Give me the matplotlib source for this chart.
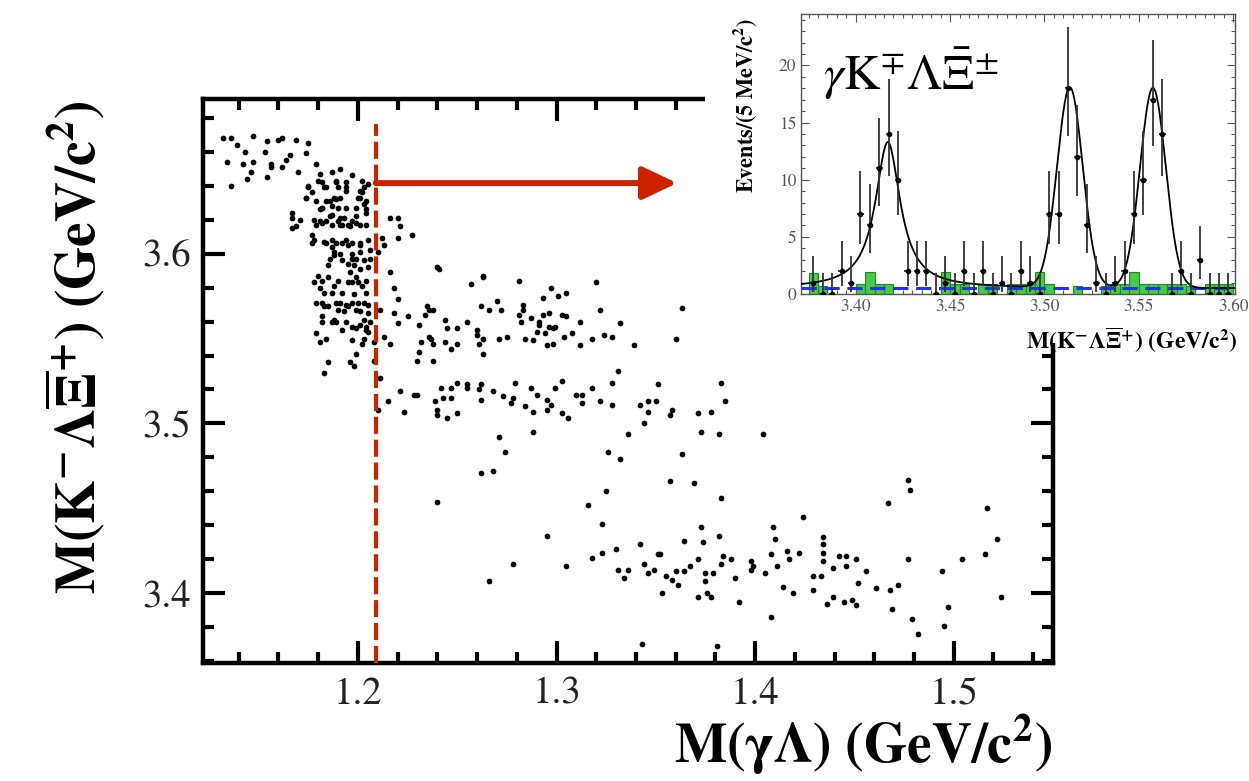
import matplotlib
matplotlib.use("Agg")
import matplotlib.pyplot as plt
import numpy as np
from matplotlib.ticker import MultipleLocator

plt.rcParams["font.family"] = ["STIXGeneral", "DejaVu Sans"]
plt.rcParams["mathtext.fontset"] = "stix"

# --- scatter: M(gamma Lambda) vs M(K Lambda Xi), GeV/c^2 ---
upper_left = [
    (1.132, 3.668), (1.136, 3.668), (1.147, 3.669), (1.139, 3.664), (1.143, 3.660),
    (1.154, 3.666), (1.153, 3.660), (1.160, 3.667), (1.162, 3.668), (1.169, 3.667),
    (1.175, 3.665), (1.174, 3.659), (1.134, 3.654), (1.142, 3.653), (1.147, 3.654),
    (1.156, 3.653), (1.156, 3.651), (1.162, 3.651), (1.164, 3.655), (1.166, 3.658),
    (1.146, 3.648), (1.144, 3.644), (1.154, 3.645), (1.170, 3.648), (1.136, 3.640),
]
sigma_top = [
    (1.179, 3.653), (1.181, 3.647), (1.187, 3.648), (1.191, 3.650), (1.197, 3.646),
    (1.202, 3.643), (1.205, 3.641), (1.182, 3.642), (1.184, 3.639), (1.189, 3.643),
    (1.190, 3.639), (1.194, 3.637), (1.201, 3.637), (1.175, 3.640), (1.177, 3.636),
    (1.174, 3.633), (1.179, 3.631), (1.182, 3.627), (1.186, 3.631), (1.189, 3.632),
    (1.191, 3.633), (1.194, 3.627), (1.199, 3.627), (1.203, 3.629), (1.204, 3.626),
    (1.201, 3.633), (1.202, 3.636), (1.167, 3.624), (1.167, 3.621), (1.171, 3.620),
    (1.181, 3.626), (1.187, 3.623), (1.191, 3.621), (1.193, 3.621), (1.199, 3.622),
    (1.204, 3.624), (1.186, 3.622),
]
sigma_mid = [
    (1.167, 3.615), (1.169, 3.616), (1.179, 3.617), (1.182, 3.618), (1.191, 3.617),
    (1.196, 3.616), (1.199, 3.618), (1.177, 3.611), (1.177, 3.606), (1.183, 3.607),
    (1.187, 3.604), (1.188, 3.601), (1.191, 3.600), (1.195, 3.605), (1.197, 3.600),
    (1.201, 3.605), (1.201, 3.601), (1.206, 3.602), (1.186, 3.597), (1.185, 3.593),
    (1.195, 3.594), (1.198, 3.593), (1.201, 3.591), (1.196, 3.589), (1.205, 3.592),
    (1.180, 3.587), (1.178, 3.583), (1.185, 3.586), (1.190, 3.584), (1.199, 3.586),
    (1.200, 3.583), (1.202, 3.581), (1.181, 3.580), (1.183, 3.577), (1.192, 3.577),
    (1.187, 3.577), (1.198, 3.576), (1.204, 3.577), (1.179, 3.571), (1.183, 3.569),
    (1.191, 3.571), (1.194, 3.570), (1.197, 3.571), (1.200, 3.571), (1.205, 3.570),
    (1.190, 3.567), (1.193, 3.566), (1.201, 3.566), (1.182, 3.563), (1.187, 3.560),
    (1.188, 3.561), (1.194, 3.560), (1.203, 3.561), (1.206, 3.560), (1.204, 3.557),
    (1.199, 3.556), (1.205, 3.554),
]
sigma_dense = [
    (1.180, 3.643), (1.189, 3.642), (1.194, 3.642), (1.175, 3.639), (1.183, 3.639),
    (1.194, 3.639), (1.203, 3.639), (1.174, 3.633), (1.184, 3.631), (1.188, 3.633),
    (1.200, 3.633), (1.204, 3.631), (1.182, 3.627), (1.187, 3.628), (1.190, 3.627),
    (1.178, 3.620), (1.181, 3.619), (1.184, 3.619), (1.187, 3.617), (1.190, 3.619),
    (1.192, 3.617), (1.195, 3.617), (1.197, 3.619), (1.201, 3.617), (1.204, 3.617),
    (1.178, 3.608), (1.184, 3.606), (1.187, 3.608), (1.189, 3.606), (1.192, 3.606),
    (1.194, 3.608), (1.197, 3.606), (1.201, 3.606), (1.205, 3.608), (1.188, 3.599),
    (1.192, 3.596), (1.197, 3.597), (1.199, 3.597), (1.203, 3.596), (1.206, 3.597),
    (1.182, 3.584), (1.188, 3.581), (1.195, 3.583), (1.197, 3.583), (1.204, 3.584),
    (1.182, 3.571), (1.185, 3.569), (1.189, 3.571), (1.195, 3.569), (1.199, 3.567),
    (1.203, 3.571), (1.205, 3.565), (1.182, 3.560), (1.189, 3.560), (1.192, 3.555),
    (1.197, 3.557), (1.201, 3.558), (1.204, 3.555),
]
past_cut = [
    (1.216, 3.621), (1.220, 3.621), (1.221, 3.616), (1.220, 3.609), (1.227, 3.611),
    (1.212, 3.609), (1.213, 3.605), (1.210, 3.601), (1.216, 3.589), (1.218, 3.580),
    (1.220, 3.573), (1.211, 3.567), (1.218, 3.565), (1.220, 3.559), (1.225, 3.563),
    (1.240, 3.592), (1.241, 3.591), (1.257, 3.582), (1.263, 3.587), (1.263, 3.586),
    (1.262, 3.569), (1.266, 3.567), (1.270, 3.572), (1.235, 3.569), (1.236, 3.567),
    (1.238, 3.567), (1.234, 3.564), (1.244, 3.561), (1.245, 3.556), (1.250, 3.556),
    (1.255, 3.560), (1.260, 3.555), (1.231, 3.558), (1.236, 3.551),
]
sigma_low = [
    (1.179, 3.553), (1.181, 3.548), (1.184, 3.550), (1.197, 3.549), (1.202, 3.547),
    (1.203, 3.550), (1.208, 3.548), (1.213, 3.551), (1.216, 3.547), (1.199, 3.541),
    (1.185, 3.536), (1.183, 3.530), (1.196, 3.536), (1.198, 3.534), (1.208, 3.537),
    (1.211, 3.527), (1.215, 3.513), (1.221, 3.519), (1.223, 3.507), (1.210, 3.508),
    (1.228, 3.517), (1.230, 3.517),
]
chic2_band = [
    (1.232, 3.548), (1.231, 3.542), (1.230, 3.537), (1.238, 3.537), (1.237, 3.550),
    (1.238, 3.547), (1.244, 3.548), (1.247, 3.544), (1.250, 3.547), (1.260, 3.552),
    (1.263, 3.550), (1.261, 3.547), (1.263, 3.541), (1.271, 3.550),
    (1.281, 3.584), (1.297, 3.580), (1.293, 3.574), (1.301, 3.575), (1.305, 3.577),
    (1.320, 3.583), (1.322, 3.567), (1.363, 3.568), (1.272, 3.567), (1.283, 3.570),
    (1.283, 3.567), (1.281, 3.564), (1.282, 3.560), (1.287, 3.562), (1.291, 3.560),
    (1.291, 3.558), (1.293, 3.564), (1.296, 3.565), (1.303, 3.564), (1.305, 3.563),
    (1.312, 3.560), (1.296, 3.557), (1.299, 3.557), (1.298, 3.556), (1.290, 3.554),
    (1.294, 3.553), (1.304, 3.551), (1.308, 3.553), (1.275, 3.551), (1.284, 3.550),
    (1.288, 3.549), (1.295, 3.546), (1.298, 3.547), (1.312, 3.546), (1.318, 3.550),
    (1.324, 3.552), (1.328, 3.551), (1.332, 3.559), (1.339, 3.546), (1.360, 3.550),
    (1.331, 3.531),
]
chic1_band = [
    (1.239, 3.513), (1.240, 3.508), (1.240, 3.505), (1.245, 3.503), (1.250, 3.506),
    (1.243, 3.515), (1.247, 3.515), (1.242, 3.521), (1.247, 3.521), (1.250, 3.524),
    (1.255, 3.521), (1.255, 3.523), (1.262, 3.523), (1.261, 3.520), (1.262, 3.514),
    (1.268, 3.519), (1.271, 3.492), (1.262, 3.471), (1.268, 3.472), (1.240, 3.454),
    (1.266, 3.407),
    (1.328, 3.524), (1.351, 3.523), (1.383, 3.524), (1.273, 3.516), (1.277, 3.512),
    (1.279, 3.524), (1.278, 3.515), (1.284, 3.510), (1.287, 3.521), (1.290, 3.517),
    (1.288, 3.507), (1.295, 3.514), (1.297, 3.511), (1.299, 3.521), (1.303, 3.525),
    (1.295, 3.508), (1.303, 3.506), (1.306, 3.503), (1.310, 3.517), (1.313, 3.517),
    (1.313, 3.512), (1.318, 3.521), (1.322, 3.513), (1.328, 3.511), (1.342, 3.511),
    (1.346, 3.513), (1.350, 3.513), (1.346, 3.507), (1.358, 3.508), (1.357, 3.505),
    (1.371, 3.506), (1.378, 3.507), (1.385, 3.513), (1.344, 3.500), (1.336, 3.494),
    (1.288, 3.495), (1.373, 3.495), (1.382, 3.494), (1.404, 3.494),
]
chic0_band = [
    (1.274, 3.483), (1.326, 3.483), (1.332, 3.479), (1.363, 3.482), (1.357, 3.466),
    (1.369, 3.465), (1.383, 3.456), (1.325, 3.460), (1.316, 3.452), (1.323, 3.441),
    (1.295, 3.434), (1.278, 3.417), (1.305, 3.416), (1.318, 3.421), (1.323, 3.424),
    (1.330, 3.426), (1.342, 3.429), (1.344, 3.417), (1.346, 3.412), (1.349, 3.414),
    (1.351, 3.423), (1.352, 3.423), (1.331, 3.414), (1.336, 3.414), (1.334, 3.409),
    (1.353, 3.400), (1.355, 3.410), (1.358, 3.408), (1.361, 3.405), (1.360, 3.413),
    (1.364, 3.413), (1.367, 3.416), (1.364, 3.431), (1.371, 3.420), (1.373, 3.439),
    (1.374, 3.430), (1.375, 3.412), (1.379, 3.412), (1.375, 3.407), (1.371, 3.398),
    (1.376, 3.400), (1.378, 3.398), (1.382, 3.434), (1.383, 3.417), (1.384, 3.422),
    (1.388, 3.420), (1.390, 3.409), (1.392, 3.395), (1.398, 3.419), (1.398, 3.414),
    (1.399, 3.416), (1.343, 3.370), (1.381, 3.369),
    (1.409, 3.439), (1.410, 3.432), (1.408, 3.423), (1.405, 3.412), (1.411, 3.416),
    (1.416, 3.425), (1.417, 3.420), (1.422, 3.424), (1.424, 3.445), (1.414, 3.404),
    (1.419, 3.400), (1.408, 3.386), (1.429, 3.410), (1.429, 3.402), (1.433, 3.410),
    (1.434, 3.419), (1.434, 3.424), (1.434, 3.429), (1.434, 3.433), (1.436, 3.394),
    (1.439, 3.398), (1.439, 3.415), (1.442, 3.422), (1.446, 3.422), (1.446, 3.416),
    (1.445, 3.395), (1.449, 3.396), (1.451, 3.393), (1.451, 3.420), (1.452, 3.406),
    (1.456, 3.413), (1.461, 3.403), (1.468, 3.402), (1.472, 3.405), (1.469, 3.391),
    (1.467, 3.453), (1.477, 3.467), (1.478, 3.461), (1.477, 3.420), (1.479, 3.385),
    (1.482, 3.376), (1.494, 3.413), (1.497, 3.392), (1.495, 3.381), (1.504, 3.420),
    (1.516, 3.423), (1.517, 3.450), (1.522, 3.432), (1.524, 3.398),
]
scatter_groups = [upper_left, sigma_top, sigma_mid, sigma_dense, past_cut,
                  sigma_low, chic2_band, chic1_band, chic0_band]

m_gl_cut = 1.209          # M(gamma Lambda) cut line
cut_top = 3.676
arrow_y = 3.6415
arrow_tip = 1.3607

# --- inset: M(K Lambda Xi) after the cut, 5 MeV bins from 3.375 ---
bin_lo = [3.375 + 0.005 * i for i in range(45)]
counts = [1, 0, 0, 2, 1, 7, 6, 11, 14, 10, 2, 2, 2, 0, 1, 0, 2, 0, 2, 0, 1, 0, 2,
          1, 0, 7, 7, 18, 12, 6, 1, 0, 1, 2, 7, 10, 17, 14, 0, 2, 0, 3, 0, 0, 0]
sideband = [1.8, 0.7, 0, 0, 0, 0.9, 1.9, 0.9, 0.9, 0, 0, 0, 0, 0, 1.9, 0.9, 0.9, 0,
            0.9, 0.9, 0, 0.9, 0.9, 0.9, 1.9, 0.9, 0, 0, 0.7, 0, 0, 0.7, 0.9, 0.9,
            1.9, 0.9, 0.9, 0.9, 0.9, 0.9, 0.7, 0, 0.9, 0.9, 0.9]
bkg_level = 0.5
peak_mass = [3.417, 3.5135, 3.5575]    # chi_c0, chi_c1, chi_c2
peak_amp = [12.8, 17.5, 17.5]
chic0_fwhm = 0.016
chic12_sigma = 0.0068

RED = "#CC2200"

fig = plt.figure(figsize=(12.49, 7.81), dpi=100)
ax = fig.add_axes([203 / 1249, 1 - 663 / 781, 850 / 1249, 564 / 781])

for grp in scatter_groups:
    xy = np.array(grp)
    ax.scatter(xy[:, 0], xy[:, 1], s=17, c="black", marker="o", linewidths=0, zorder=3)

ax.set_xlim(1.122, 1.550)
ax.set_ylim(3.359, 3.691)
ax.xaxis.set_major_locator(MultipleLocator(0.1))
ax.xaxis.set_minor_locator(MultipleLocator(0.02))
ax.yaxis.set_major_locator(MultipleLocator(0.1))
ax.yaxis.set_minor_locator(MultipleLocator(0.02))
ax.tick_params(which="both", direction="in", top=True, right=True, width=3,
               labelsize=28, labelcolor="#222222")
ax.tick_params(which="major", length=16)
ax.tick_params(which="minor", length=8)
ax.tick_params(axis="x", pad=10)
ax.tick_params(axis="y", pad=9)
for sp in ax.spines.values():
    sp.set_linewidth(3.2)

ax.vlines(m_gl_cut, ax.get_ylim()[0], cut_top, colors=RED, linewidth=3,
          linestyles=(0, (4.1, 1.4)), zorder=4, clip_on=False)
ax.annotate("", xy=(arrow_tip, arrow_y), xytext=(m_gl_cut, arrow_y),
            arrowprops=dict(arrowstyle="-|>,head_length=1.05,head_width=0.5",
                            color=RED, lw=4.3, shrinkA=0, shrinkB=0,
                            mutation_scale=20), zorder=5)

fig.text(1052 / 1249, 1 - 745 / 781, r"$\mathbf{M(\gamma\Lambda)\ (GeV/c^{2})}$",
         ha="right", va="center", fontsize=40)
fig.text(75 / 1249, 1 - 100 / 781,
         r"$\mathbf{M(K^{-}\Lambda\overline{\Xi}^{+})\ (GeV/c^{2})}$",
         rotation=90, ha="center", va="top", fontsize=40)

# white backing behind the inset
cover = fig.add_axes([705 / 1249, 1 - 343 / 781, 544 / 1249, 343 / 781])
cover.set_facecolor("white")
cover.set_xticks([])
cover.set_yticks([])
for sp in cover.spines.values():
    sp.set_visible(False)

ins = fig.add_axes([801 / 1249, 1 - 294 / 781, 434 / 1249, 280 / 781])
ins.bar(bin_lo, sideband, width=0.005, align="edge", color="#44CC44",
        edgecolor="#1E8C1E", linewidth=0.8, zorder=2)
ins.axhline(bkg_level, color="#2233EE", linestyle=(0, (5, 2.5)), linewidth=2.2, zorder=3)

mass = np.linspace(3.371, 3.601, 600)
fit = np.full_like(mass, bkg_level)
fit += peak_amp[0] / (1 + ((mass - peak_mass[0]) / (chic0_fwhm / 2)) ** 2)
for m0, a in zip(peak_mass[1:], peak_amp[1:]):
    fit += a * np.exp(-0.5 * ((mass - m0) / chic12_sigma) ** 2)
ins.plot(mass, fit, color="black", linewidth=1.3, zorder=4)

n = np.array(counts, dtype=float)
centers = np.array(bin_lo) + 0.0025
err_hi = 1 + np.sqrt(n + 0.75)
err_lo = np.sqrt(np.clip(n - 0.25, 0, None))
ins.errorbar(centers, n, yerr=[err_lo, err_hi], xerr=0.0017, fmt="o", ms=3,
             color="black", ecolor="#333333", elinewidth=1.3, capsize=0, zorder=5)

ins.set_xlim(3.371, 3.601)
ins.set_ylim(0, 24.5)
ins.xaxis.set_major_locator(MultipleLocator(0.05))
ins.xaxis.set_minor_locator(MultipleLocator(0.005))
ins.yaxis.set_major_locator(MultipleLocator(5))
ins.yaxis.set_minor_locator(MultipleLocator(1))
ins.tick_params(which="both", direction="in", top=True, right=True, width=0.8,
                color="#555555", labelsize=12.5, labelcolor="#555555")
ins.tick_params(which="major", length=6)
ins.tick_params(which="minor", length=3)
ins.xaxis.set_major_formatter(plt.FuncFormatter(lambda v, _: f"{v:.2f}"))
for sp in ins.spines.values():
    sp.set_linewidth(1)
    sp.set_color("#555555")

fig.text(823 / 1249, 1 - 90 / 781, r"$\gamma\mathrm{K}^{\mp}\Lambda\bar{\Xi}^{\pm}$",
         ha="left", va="baseline", fontsize=36)
fig.text(745 / 1249, 1 - 18 / 781, r"$\mathbf{Events/(5\ MeV/c^{2})}$",
         rotation=90, ha="center", va="top", fontsize=16)
fig.text(1237 / 1249, 1 - 340 / 781,
         r"$\mathbf{M(K^{-}\Lambda\overline{\Xi}^{+})\ (GeV/c^{2})}$",
         ha="right", va="center", fontsize=17)

fig.savefig("out.png", dpi=100)
